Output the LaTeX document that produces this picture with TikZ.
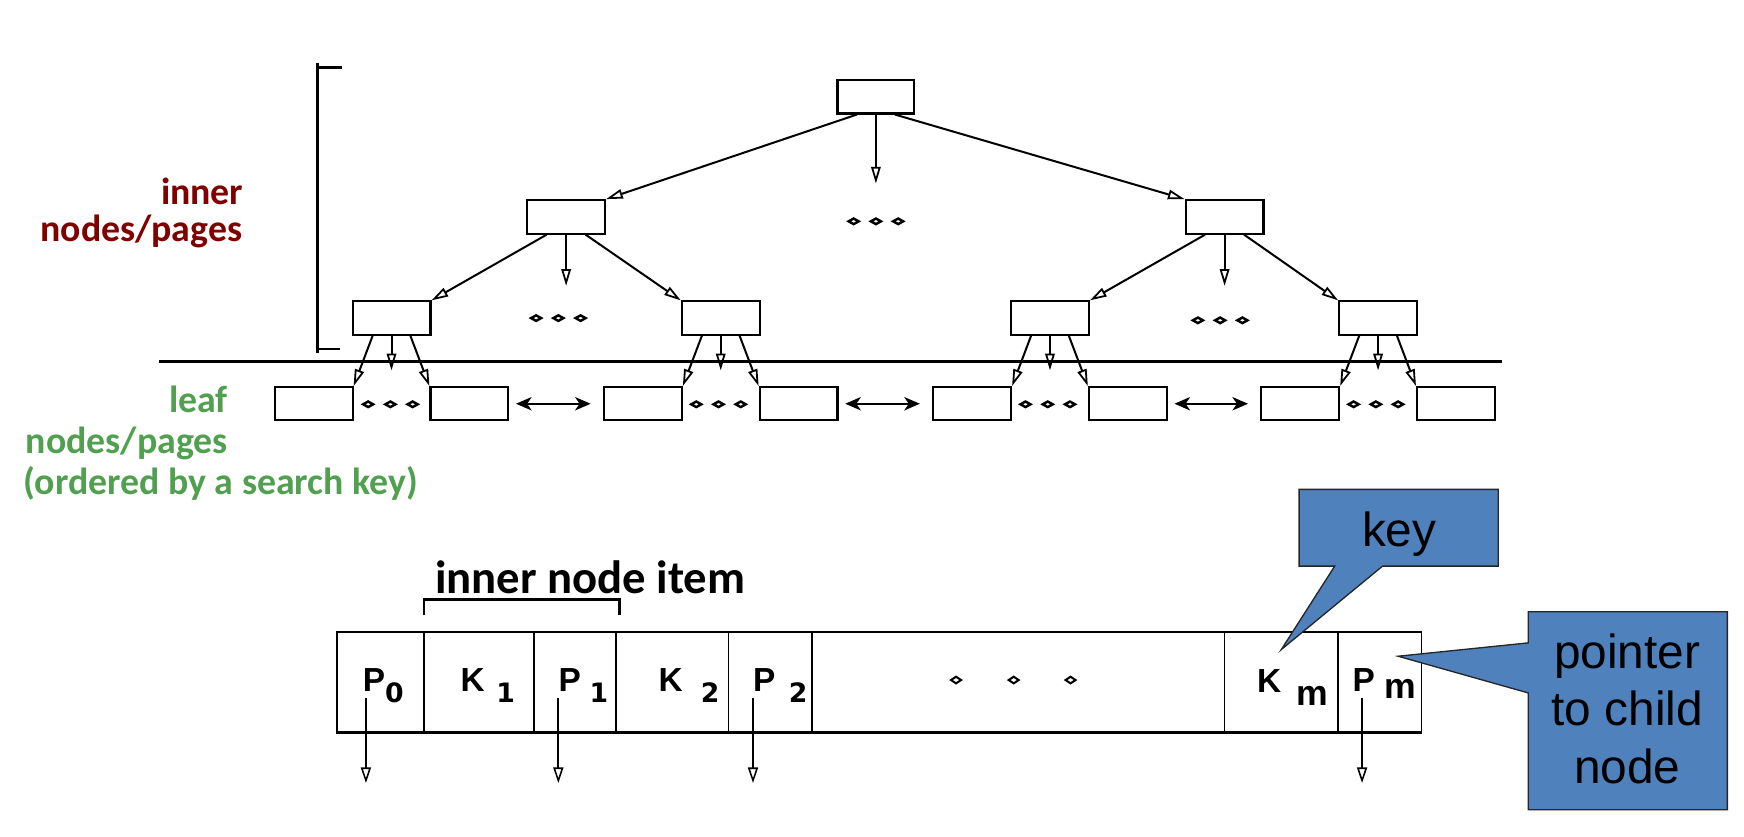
\documentclass[tikz,border=0pt]{standalone}
\usepackage{fontspec}
\usetikzlibrary{arrows.meta,calc}
\newfontfamily\carlito{Carlito}
\newfontfamily\lsans{Liberation Sans}
\newfontfamily\dvsans{DejaVu Sans}
\definecolor{myred}{RGB}{128,0,0}
\definecolor{mygreen}{RGB}{80,160,80}
\definecolor{myblue}{RGB}{79,129,189}
\begin{document}
\begin{tikzpicture}[x=1pt,y=-1pt,
  tbox/.style={draw,line width=1.9pt,minimum width=70pt,minimum height=30pt,inner sep=0pt},
  tarr/.style={line width=1.8pt,-{Triangle[open,length=15pt,width=8.5pt,line width=1.6pt]}},
  larr/.style={line width=1.9pt,{Stealth[length=14pt,width=12pt,inset=4pt]}-{Stealth[length=14pt,width=12pt,inset=4pt]},shorten <=6pt,shorten >=11pt},
  parr/.style={line width=1.6pt,-{Triangle[open,length=14pt,width=9pt,line width=1.4pt]}},
  cell/.style={draw,line width=1.5pt,minimum height=90pt,inner sep=0pt},
  lab/.style={inner sep=0pt,font=\carlito\bfseries\fontsize{34}{40}\selectfont},
  klbl/.style={inner sep=0pt,anchor=base west,font=\lsans\bfseries\fontsize{30}{36}\selectfont},
  slbl/.style={inner sep=0pt,anchor=base west,font=\dvsans\bfseries\fontsize{24}{29}\selectfont},
  mlbl/.style={inner sep=0pt,anchor=base west,font=\lsans\bfseries\fontsize{32}{38}\selectfont},
  ctext/.style={inner sep=0pt,anchor=base,font=\lsans\fontsize{43}{50}\selectfont},
  callout/.style={fill=myblue,draw=black!85,line width=1.2pt,line join=miter}
]
\useasboundingbox (0,0) rectangle (1568,752);

% ---------- labels left ----------
\node[lab,text=myred,anchor=base east] (lin1) at (219,184) {inner};
\node[lab,text=myred,anchor=base east] (lin2) at (218,217) {nodes/pages};
\node[lab,text=mygreen,anchor=base east] (lf1) at (205,371) {leaf};
\node[lab,text=mygreen,anchor=base east] (lf2) at (205,407.5) {nodes/pages};
\node[lab,text=mygreen,anchor=base west] (lf3) at (21,445) {(ordered by a search key)};

% ---------- bracket ----------
\draw[line width=2.2pt] (285.5,57) -- (285.5,317.5);
\draw[line width=2.2pt] (285.5,60.5) -- (307.5,60.5);
\draw[line width=2.2pt] (285.5,314) -- (306,314);

% ---------- separator line ----------
\draw[line width=2.2pt] (143,325) -- (1350,325);

% ---------- tree nodes ----------
\node[tbox,minimum width=69pt] (root) at (787.5,87) {};
\node[tbox] (na) at (509,195) {};
\node[tbox] (nb) at (1101,195) {};
\foreach \i/\c in {a/352,b/648,c/944,d/1239} {
  \node[tbox] (m\i) at (\c,286) {};
  \node[tbox] (la\i) at (\c-70,363) {};
  \node[tbox] (lb\i) at (\c+70,363) {};
  \coordinate (mm\i) at (\c,333);
}
\coordinate (rm) at (787.5,165);
\coordinate (am) at (509,257);
\coordinate (bm) at (1101,257);

% ---------- tree arrows ----------
\draw[tarr] ($(root.south)+(-17,0)$) -- (na.north east);
\draw[tarr] (root.south) -- (rm);
\draw[tarr] ($(root.south)+(17,0)$) -- (nb.north west);
\draw[tarr] ($(na.south)+(-17.5,0)$) -- (ma.north east);
\draw[tarr] (na.south) -- (am);
\draw[tarr] ($(na.south)+(17.5,0)$) -- (mb.north west);
\draw[tarr] ($(nb.south)+(-17.5,0)$) -- (mc.north east);
\draw[tarr] (nb.south) -- (bm);
\draw[tarr] ($(nb.south)+(17.5,0)$) -- (md.north west);
\foreach \i in {a,b,c,d} {
  \draw[tarr] ($(m\i.south)+(-17,0)$) -- (la\i.north east);
  \draw[tarr] (m\i.south) -- (mm\i);
  \draw[tarr] ($(m\i.south)+(17,0)$) -- (lb\i.north west);
}
\draw[larr] (lba.east) -- (lab.west);
\draw[larr] (lbb.east) -- (lac.west);
\draw[larr] (lbc.east) -- (lad.west);

% ---------- dots in tree ----------
\foreach \cx/\cy in {787.5/199,502/286,1097/288,351/363.5,646/363.5,942/363.5,1237/363.5} {
  \foreach \dx in {-20,0,20} {
    \draw[line width=2.2pt,fill=white,line join=miter]
      (\cx+\dx-4.5,\cy) -- (\cx+\dx,\cy-2.5) -- (\cx+\dx+4.5,\cy) -- (\cx+\dx,\cy+2.5) -- cycle;
  }
}

% ---------- inner node item ----------
\node[inner sep=0pt,anchor=base west,font=\carlito\bfseries\fontsize{42}{48}\selectfont] (item) at (391,533.5) {inner node item};
\draw[line width=2pt] (381,553) -- (381,539) -- (557,539) -- (557,553);

% ---------- table ----------
\node[cell,minimum width=78pt]  (c0) at (342,613) {};
\node[cell,minimum width=99pt]  (c1) at (430.5,613) {};
\node[cell,minimum width=74pt]  (c2) at (517,613) {};
\node[cell,minimum width=101pt] (c3) at (604.5,613) {};
\node[cell,minimum width=75pt]  (c4) at (692.5,613) {};
\node[cell,minimum width=371pt] (c5) at (915.5,613) {};
\node[cell,minimum width=102pt] (c6) at (1152,613) {};
\node[cell,minimum width=75pt]  (c7) at (1240.5,613) {};
\draw[line width=2.4pt] (c0.south west) -- (c7.south east);

\node[klbl] (p0) at (326,622) {P};   \node[slbl] (p0s) at (346,631.5) {0};
\node[klbl] (k1) at (414,622) {K};   \node[slbl] (k1s) at (446,632) {1};
\node[klbl] (p1) at (502,622) {P};   \node[slbl] (p1s) at (530,632) {1};
\node[klbl] (k2) at (592,622) {K};   \node[slbl] (k2s) at (630,632) {2};
\node[klbl] (p2) at (677,622) {P};   \node[slbl] (p2s) at (709,632) {2};
\node[klbl] (km) at (1130,623) {K};  \node[mlbl] (kms) at (1165,634) {m};
\node[klbl] (pm) at (1216,622) {P};  \node[mlbl] (pms) at (1245,628) {m};

\foreach \x in {859.6,911.4,962.5} {
  \draw[line width=1.8pt,fill=white,line join=miter]
    (\x-4.5,611.4) -- (\x,608.4) -- (\x+4.5,611.4) -- (\x,614.4) -- cycle;
}

% ---------- pointer arrows ----------
\coordinate (q0s) at (329,627.6);   \coordinate (q0e) at (329,704);
\coordinate (q1s) at (502,627.6);   \coordinate (q1e) at (502,704);
\coordinate (q2s) at (677,627.6);   \coordinate (q2e) at (677,704);
\coordinate (qms) at (1224.6,627.6);\coordinate (qme) at (1224.6,704);
\draw[parr] (q0s) -- (q0e);
\draw[parr] (q1s) -- (q1e);
\draw[parr] (q2s) -- (q2e);
\draw[parr] (qms) -- (qme);

% ---------- callouts ----------
\draw[callout] (1168,440) -- (1347,440) -- (1347,509) -- (1243,509) -- (1152,584)
  -- (1200,509) -- (1168,509) -- cycle;
\node[ctext] (keyt) at (1258,491.5) {key};
\draw[callout] (1374,550) -- (1553,550) -- (1553,728) -- (1374,728) -- (1374,623)
  -- (1257,590) -- (1374,578) -- cycle;
\node[ctext] (pt1) at (1463,600.6) {pointer};
\node[ctext] (pt2) at (1463,652) {to child};
\node[ctext] (pt3) at (1463,704) {node};
\end{tikzpicture}
\end{document}
